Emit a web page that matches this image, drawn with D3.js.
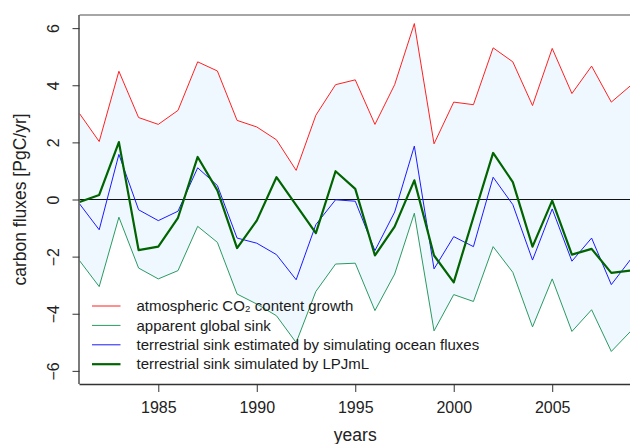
<!DOCTYPE html>
<html>
<head>
<meta charset="utf-8">
<script src="https://cdn.jsdelivr.net/npm/d3@7"></script>
<style>
  html, body { margin: 0; padding: 0; background: #fff; }
  svg { display: block; font-family: "Liberation Sans", Arial, Helvetica, sans-serif; }
</style>
</head>
<body>
<svg id="chart" width="630" height="444"></svg>
<script>
const years = d3.range(1981, 2010);
const atmosphericGrowth = [3.01, 2.03, 4.49, 2.87, 2.63, 3.12, 4.82, 4.50, 2.77, 2.54,
  2.09, 1.02, 2.95, 4.02, 4.19, 2.63, 4.02, 6.16, 1.95, 3.41,
  3.32, 5.31, 4.82, 3.29, 5.29, 3.71, 4.67, 3.41, 4.00];
const apparentSink = [-2.14, -3.05, -0.62, -2.40, -2.78, -2.49, -0.94, -1.50, -3.31, -3.66,
  -4.07, -5.01, -3.22, -2.26, -2.23, -3.89, -2.61, -0.48, -4.60, -3.33,
  -3.57, -1.65, -2.55, -4.46, -2.78, -4.62, -3.86, -5.32, -4.60];
const oceanEstimate = [-0.15, -1.06, 1.58, -0.36, -0.74, -0.41, 1.11, 0.49, -1.35, -1.53,
  -1.93, -2.81, -0.88, -0.01, -0.06, -1.79, -0.44, 1.87, -2.43, -1.30,
  -1.65, 0.78, -0.18, -2.12, -0.33, -2.16, -1.35, -2.98, -2.08];
const lpjml = [-0.09, 0.16, 2.01, -1.77, -1.65, -0.64, 1.49, 0.32, -1.70, -0.74,
  0.78, -0.20, -1.18, 0.99, 0.37, -1.96, -0.95, 0.67, -1.96, -2.90,
  -0.62, 1.63, 0.61, -1.65, -0.04, -1.93, -1.73, -2.57, -2.49];
const xTicks = [1985, 1990, 1995, 2000, 2005];
const yTicks = [-6, -4, -2, 0, 2, 4, 6];
const legendLabels = ["atmospheric CO\u2082 content growth", "apparent global sink",
  "terrestrial sink estimated by simulating ocean fluxes", "terrestrial sink simulated by LPJmL"];

const svg = d3.select("#chart");
const mLeft = 79.5, mRight = 631, mTop = 15, mBottom = 384;
const x = d3.scaleLinear().domain([1981, 2009]).range([mLeft, mRight]);
const y = d3.scaleLinear().domain([-6.46, 6.46]).range([mBottom, mTop]);

const series = [
  {vals: atmosphericGrowth, color: "#ff2020", w: 1},
  {vals: apparentSink, color: "#2a9a62", w: 1},
  {vals: oceanEstimate, color: "#1a1aff", w: 1},
  {vals: lpjml, color: "#006400", w: 2.2}
];

svg.append("clipPath").attr("id", "plotclip")
  .append("rect").attr("x", mLeft).attr("y", mTop).attr("width", mRight - mLeft).attr("height", mBottom - mTop);

const plot = svg.append("g").attr("clip-path", "url(#plotclip)");

const area = d3.area().x((d, i) => x(years[i])).y0((d, i) => y(apparentSink[i])).y1(d => y(d));
plot.append("path").datum(atmosphericGrowth).attr("d", area).attr("fill", "#f0f8ff");

plot.append("line").attr("x1", mLeft).attr("x2", mRight).attr("y1", y(0)).attr("y2", y(0))
  .attr("stroke", "#111").attr("stroke-width", 1);

const line = d3.line().x((d, i) => x(years[i])).y(d => y(d));
series.forEach(s => {
  plot.append("path").datum(s.vals).attr("d", line).attr("fill", "none")
    .attr("stroke", s.color).attr("stroke-width", s.w).attr("stroke-linejoin", "round");
});

svg.append("line").attr("x1", mLeft).attr("x2", mRight).attr("y1", mTop).attr("y2", mTop)
  .attr("stroke", "#888").attr("stroke-width", 1.6);

const xAxis = d3.axisBottom(x).tickValues(xTicks).tickFormat(d3.format("d")).tickSize(8).tickPadding(10);
const gx = svg.append("g").attr("transform", `translate(0,${mBottom})`).call(xAxis);
gx.select(".domain").attr("d", `M${mLeft},0.5H${mRight}`).attr("stroke", "#333").attr("stroke-width", 1.3);
gx.selectAll(".tick line").attr("stroke", "#333");
gx.selectAll("text").attr("font-size", 16).attr("fill", "#222").attr("font-family", "Liberation Sans, Arial, sans-serif");

const yAxis = d3.axisLeft(y).tickValues(yTicks).tickSize(7).tickFormat(d3.format("d"));
const gy = svg.append("g").attr("transform", `translate(${mLeft},0)`).call(yAxis);
gy.select(".domain").attr("d", `M-0.5,${mTop}V${mBottom}`).attr("stroke", "#333").attr("stroke-width", 1.3);
gy.selectAll(".tick line").attr("stroke", "#333");
gy.selectAll("text").attr("font-size", 16).attr("fill", "#222")
  .attr("font-family", "Liberation Sans, Arial, sans-serif")
  .attr("text-anchor", "middle").attr("dy", null).attr("x", null)
  .attr("transform", "translate(-26,0) rotate(-90)").attr("dominant-baseline", "central");

svg.append("text").attr("x", (mLeft + mRight) / 2).attr("y", 441).attr("text-anchor", "middle")
  .attr("font-size", 17.5).attr("fill", "#222").text("years");
svg.append("text").attr("transform", `translate(26,${y(0)}) rotate(-90)`).attr("text-anchor", "middle")
  .attr("font-size", 17.5).attr("fill", "#222").text("carbon fluxes [PgC/yr]");

const lg = svg.append("g");
series.forEach((s, i) => {
  const yy = 306 + i * 19.4;
  lg.append("line").attr("x1", 92).attr("x2", 120.5).attr("y1", yy).attr("y2", yy)
    .attr("stroke", s.color).attr("stroke-width", s.w);
  lg.append("text").attr("x", 136.5).attr("y", yy).attr("dy", "0.35em")
    .attr("font-size", 15).attr("fill", "#1a1a1a").text(legendLabels[i]);
});
</script>
</body>
</html>
